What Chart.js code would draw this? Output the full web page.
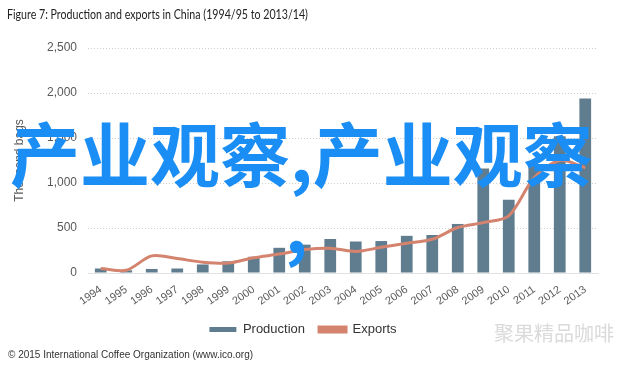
<!DOCTYPE html>
<html>
<head>
<meta charset="utf-8">
<script src="https://cdn.jsdelivr.net/npm/chart.js@4"></script>
<style>
  html, body { margin: 0; padding: 0; background: #fff; }
  #wrap { position: relative; width: 640px; height: 366px; overflow: hidden; }
  #chart { position: absolute; left: 0; top: 0; }
  .title { position: absolute; left: 7px; top: 5px; font: 14px Lato, sans-serif; color: #222;
    transform: scaleX(0.76); transform-origin: 0 0; white-space: nowrap; }
  .source { position: absolute; left: 8px; top: 349px; font: 10px "Liberation Sans", Arial, sans-serif; color: #333; }
  .mark { position: absolute; left: 494px; top: 318px; font: 20px "Noto Sans CJK SC", sans-serif; color: #dadada; }
  .over { position: absolute; font: bold 70px "Noto Sans CJK SC", sans-serif; color: #1b8ef5; line-height: 1; white-space: nowrap; }
</style>
</head>
<body>
<div id="wrap">
  <canvas id="chart" width="640" height="366"></canvas>
  <div class="title">Figure 7: Production and exports in China (1994/95 to 2013/14)</div>
  <div class="source">© 2015 International Coffee Organization (www.ico.org)</div>
  <div class="mark">聚果精品咖啡</div>
  <div class="over" style="left:10px; top:117px;">产业观察,产业观察</div>
  <div class="over" style="left:285px; top:188px;">,</div>
</div>
<script>
  const years = ['1994', '1995', '1996', '1997', '1998', '1999', '2000', '2001', '2002', '2003',
    '2004', '2005', '2006', '2007', '2008', '2009', '2010', '2011', '2012', '2013']
  const production = [50, 30, 45, 50, 95, 130, 180, 280, 315, 378, 350, 355, 413, 422, 545, 1160, 815, 1200, 1520, 1940]
  const exports = [50, 30, 190, 160, 120, 110, 170, 210, 260, 275, 240, 285, 330, 375, 505, 560, 635, 1060, 1250, 1170]
  const yTicks = [0, 500, 1000, 1500, 2000, 2500]

  const tickColor = '#595959'
  const axisFont = { family: '"Liberation Sans", Arial, sans-serif', size: 12 }

  let ctx = document.getElementById('chart').getContext('2d')
  new Chart(ctx, {
    type: 'bar',
    data: {
      labels: years,
      datasets: [
        {
          label: 'Production',
          data: production,
          backgroundColor: '#607d8f',
          barPercentage: 0.46,
          categoryPercentage: 1,
          order: 1,
        },
        {
          type: 'line',
          label: 'Exports',
          data: exports,
          borderColor: '#d4846e',
          backgroundColor: '#d4846e',
          borderWidth: 3,
          pointRadius: 0,
          tension: 0.3,
          order: 0,
        },
      ],
    },
    options: {
      responsive: false,
      animation: false,
      layout: { padding: { top: 48, right: 42, left: 8, bottom: 20 } },
      plugins: {
        legend: {
          position: 'bottom',
          labels: {
            color: '#333',
            font: { family: '"Liberation Sans", Arial, sans-serif', size: 13 },
            boxWidth: 27,
            boxHeight: 5,
            padding: 14,
            sort: (a, b) => a.datasetIndex - b.datasetIndex,
          },
        },
        tooltip: { enabled: false },
      },
      scales: {
        x: {
          grid: { display: false },
          border: { color: '#e2e2e2', width: 1 },
          ticks: {
            color: tickColor,
            font: { ...axisFont, size: 11 },
            autoSkip: false,
            minRotation: 35,
            maxRotation: 35,
            padding: 2,
          },
          afterFit: (scale) => { scale.height = 36 },
        },
        y: {
          min: 0,
          max: 2500,
          afterBuildTicks: (scale) => { scale.ticks = yTicks.map((v) => ({ value: v })) },
          grid: { color: '#cfcfcf', tickLength: 0, lineWidth: 1 },
          border: { display: false, dash: [1, 2] },
          ticks: { color: tickColor, font: axisFont, padding: 11 },
          title: { display: true, text: 'Thousand bags', color: tickColor, font: axisFont, padding: { bottom: 0 } },
          afterFit: (scale) => { scale.width = 80 },
        },
      },
    },
  })
</script>
</body>
</html>
